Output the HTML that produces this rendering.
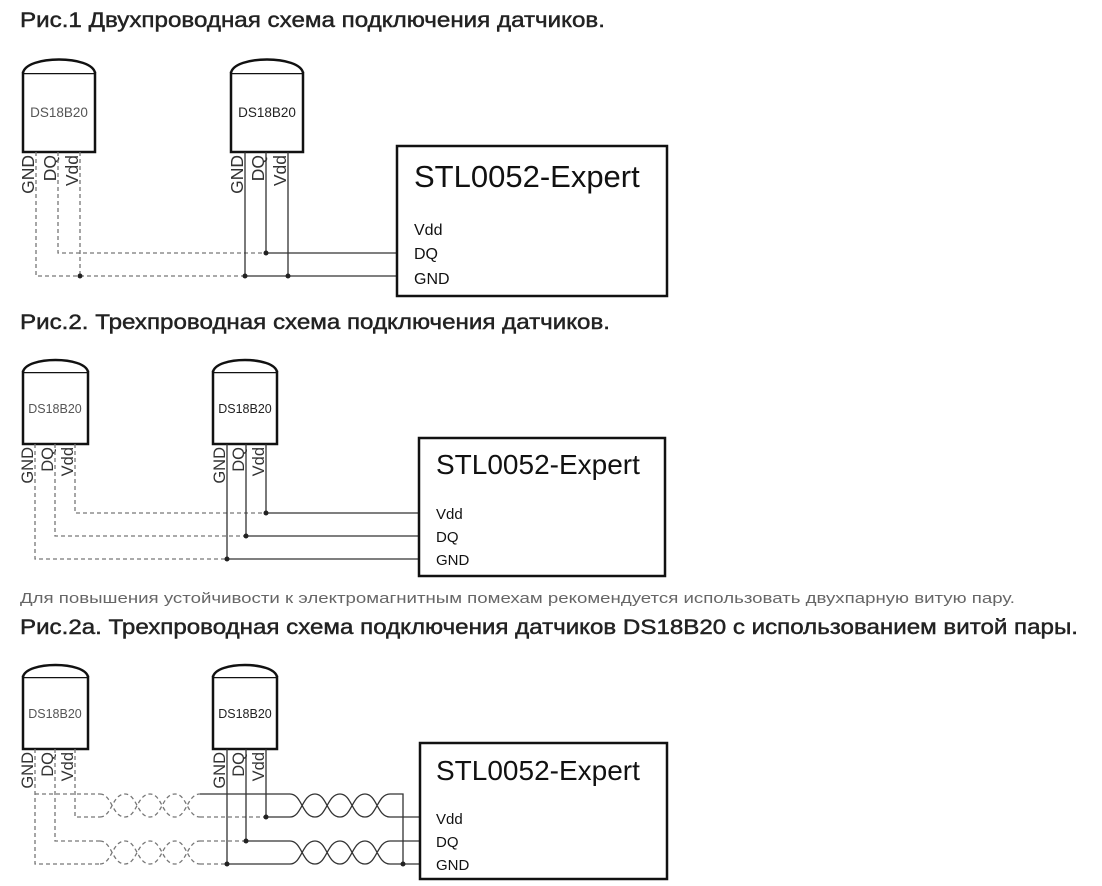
<!DOCTYPE html>
<html><head><meta charset="utf-8"><style>
body{margin:0;background:#fff;width:1102px;height:886px;overflow:hidden}
svg{display:block}
.h{font-family:"Liberation Sans","DejaVu Sans",sans-serif;font-size:21px;fill:#222;stroke:#222;stroke-width:0.45}
.p{font-family:"Liberation Sans","DejaVu Sans",sans-serif;font-size:15px;fill:#666}
.a{font-family:"Liberation Sans",Arial,sans-serif}
.s{fill:none;stroke:#333;stroke-width:1.3}
.d{fill:none;stroke:#777;stroke-width:1.3;stroke-dasharray:4 3}
.b{fill:#fff;stroke:#111;stroke-width:2.5}
</style></head><body>
<svg width="1102" height="886" xmlns="http://www.w3.org/2000/svg">
<text class="h" x="20" y="27" textLength="585" lengthAdjust="spacingAndGlyphs">Рис.1 Двухпроводная схема подключения датчиков.</text>
<text class="h" x="20" y="329" textLength="590" lengthAdjust="spacingAndGlyphs">Рис.2. Трехпроводная схема подключения датчиков.</text>
<text class="p" x="20" y="603" textLength="995" lengthAdjust="spacingAndGlyphs">Для повышения устойчивости к электромагнитным помехам рекомендуется использовать двухпарную витую пару.</text>
<text class="h" x="20" y="634" textLength="1058" lengthAdjust="spacingAndGlyphs">Рис.2a. Трехпроводная схема подключения датчиков DS18B20 с использованием витой пары.</text>

<!-- FIG 1 -->
<g>
 <rect class="b" x="23" y="73" width="72" height="79"/>
 <path class="b" d="M23,73 C26,55 92,55 95,73"/>
 <text class="a" x="59" y="117" font-size="13.5" fill="#555" text-anchor="middle">DS18B20</text>
 <rect class="b" x="231" y="73" width="72" height="79"/>
 <path class="b" d="M231,73 C234,55 300,55 303,73"/>
 <text class="a" x="267" y="117" font-size="13.5" fill="#222" text-anchor="middle">DS18B20</text>
 <g class="a" font-size="17.5" fill="#333">
  <text transform="translate(34,155) rotate(-90)" text-anchor="end">GND</text>
  <text transform="translate(56,155) rotate(-90)" text-anchor="end">DQ</text>
  <text transform="translate(78,155) rotate(-90)" text-anchor="end">Vdd</text>
  <text transform="translate(243,155) rotate(-90)" text-anchor="end">GND</text>
  <text transform="translate(264,155) rotate(-90)" text-anchor="end">DQ</text>
  <text transform="translate(286,155) rotate(-90)" text-anchor="end">Vdd</text>
 </g>
 <path class="d" d="M36,152V276H245 M58,152V253H266 M80,152V276"/>
 <path class="s" d="M245,152V276H396 M266,152V253H396 M288,152V276"/>
 <g fill="#222"><circle cx="80" cy="276" r="2.5"/><circle cx="245" cy="276" r="2.5"/><circle cx="288" cy="276" r="2.5"/><circle cx="266" cy="253" r="2.5"/></g>
 <rect class="b" x="397" y="146" width="270" height="150"/>
 <text class="a" x="414" y="187" font-size="31" fill="#111">STL0052-Expert</text>
 <g class="a" font-size="16" fill="#111"><text x="414" y="235">Vdd</text><text x="414" y="259">DQ</text><text x="414" y="284">GND</text></g>
</g>

<!-- FIG 2 -->
<g>
 <rect class="b" x="23" y="372" width="65" height="72"/>
 <path class="b" d="M23,372 C26,356 85,356 88,372"/>
 <text class="a" x="55" y="413" font-size="12.5" fill="#555" text-anchor="middle">DS18B20</text>
 <rect class="b" x="213" y="372" width="64" height="72"/>
 <path class="b" d="M213,372 C216,356 274,356 277,372"/>
 <text class="a" x="245" y="413" font-size="12.5" fill="#222" text-anchor="middle">DS18B20</text>
 <g class="a" font-size="16.5" fill="#333">
  <text transform="translate(33,447) rotate(-90)" text-anchor="end">GND</text>
  <text transform="translate(53,447) rotate(-90)" text-anchor="end">DQ</text>
  <text transform="translate(73,447) rotate(-90)" text-anchor="end">Vdd</text>
  <text transform="translate(225,447) rotate(-90)" text-anchor="end">GND</text>
  <text transform="translate(244,447) rotate(-90)" text-anchor="end">DQ</text>
  <text transform="translate(264,447) rotate(-90)" text-anchor="end">Vdd</text>
 </g>
 <path class="d" d="M35,444V559H227 M55,444V536H246 M75,444V513H266"/>
 <path class="s" d="M227,444V559H418 M246,444V536H418 M266,444V513H418"/>
 <g fill="#222"><circle cx="227" cy="559" r="2.5"/><circle cx="246" cy="536" r="2.5"/><circle cx="266" cy="513" r="2.5"/></g>
 <rect class="b" x="419" y="438" width="246" height="138"/>
 <text class="a" x="436" y="474" font-size="28" fill="#111">STL0052-Expert</text>
 <g class="a" font-size="15" fill="#111"><text x="436" y="519">Vdd</text><text x="436" y="542">DQ</text><text x="436" y="565">GND</text></g>
</g>

<!-- FIG 2a -->
<g>
 <rect class="b" x="23" y="677" width="65" height="72"/>
 <path class="b" d="M23,677 C26,661 85,661 88,677"/>
 <text class="a" x="55" y="718" font-size="12.5" fill="#555" text-anchor="middle">DS18B20</text>
 <rect class="b" x="213" y="677" width="64" height="72"/>
 <path class="b" d="M213,677 C216,661 274,661 277,677"/>
 <text class="a" x="245" y="718" font-size="12.5" fill="#222" text-anchor="middle">DS18B20</text>
 <g class="a" font-size="16.5" fill="#333">
  <text transform="translate(33,752) rotate(-90)" text-anchor="end">GND</text>
  <text transform="translate(53,752) rotate(-90)" text-anchor="end">DQ</text>
  <text transform="translate(73,752) rotate(-90)" text-anchor="end">Vdd</text>
  <text transform="translate(225,752) rotate(-90)" text-anchor="end">GND</text>
  <text transform="translate(244,752) rotate(-90)" text-anchor="end">DQ</text>
  <text transform="translate(264,752) rotate(-90)" text-anchor="end">Vdd</text>
 </g>
 <path class="d" d="M35,749V864H100 M35,794H100 M55,749V841H100 M75,749V817H100"/>
 <path class="d" d="M100,794 C112,794 112,817 125,817 C137,817 137,794 150,794 C162,794 162,817 175,817 C187,817 187,794 200,794
  M100,817 C112,817 112,794 125,794 C137,794 137,817 150,817 C162,817 162,794 175,794 C187,794 187,817 200,817
  M100,841 C112,841 112,864 125,864 C137,864 137,841 150,841 C162,841 162,864 175,864 C187,864 187,841 200,841
  M100,864 C112,864 112,841 125,841 C137,841 137,864 150,864 C162,864 162,841 175,841 C187,841 187,864 200,864
  M200,817H266 M200,841H246 M200,864H227"/>
 <path class="s" d="M200,794H290 M227,749V864 M246,749V841 M266,749V817 M266,817H290 M246,841H290 M227,864H290"/>
 <path class="s" d="M290,794 C302,794 302,817 315,817 C327,817 327,794 340,794 C352,794 352,817 365,817 C377,817 377,794 390,794
  M290,817 C302,817 302,794 315,794 C327,794 327,817 340,817 C352,817 352,794 365,794 C377,794 377,817 390,817
  M290,841 C302,841 302,864 315,864 C327,864 327,841 340,841 C352,841 352,864 365,864 C377,864 377,841 390,841
  M290,864 C302,864 302,841 315,841 C327,841 327,864 340,864 C352,864 352,841 365,841 C377,841 377,864 390,864
  M390,794H403V864 M390,817H419 M390,841H419 M390,864H419"/>
 <g fill="#222"><circle cx="227" cy="864" r="2.5"/><circle cx="246" cy="841" r="2.5"/><circle cx="266" cy="817" r="2.5"/><circle cx="403" cy="864" r="2.5"/></g>
 <rect class="b" x="420" y="743" width="247" height="136"/>
 <text class="a" x="436" y="780" font-size="28" fill="#111">STL0052-Expert</text>
 <g class="a" font-size="15" fill="#111"><text x="436" y="824">Vdd</text><text x="436" y="847">DQ</text><text x="436" y="870">GND</text></g>
</g>
</svg>
</body></html>
